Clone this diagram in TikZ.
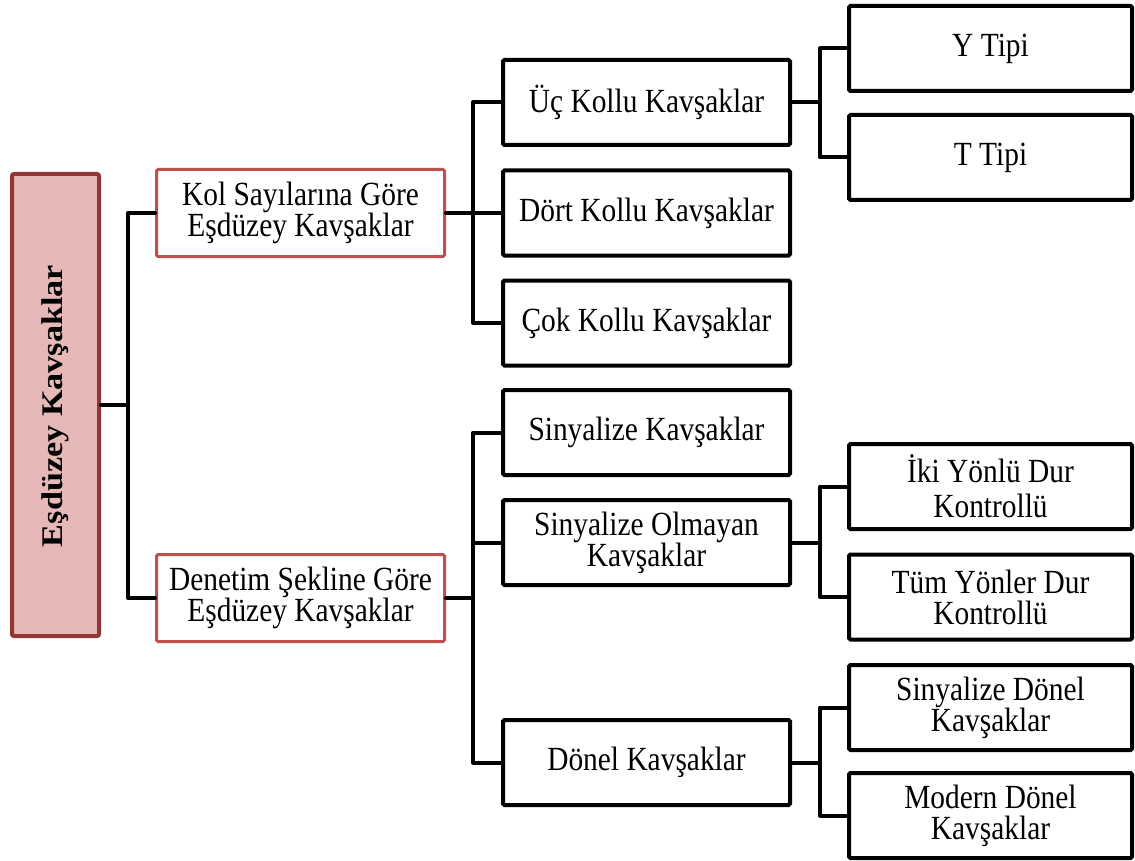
\documentclass[tikz,border=0pt]{standalone}
\usepackage{fontspec}
\setmainfont{Liberation Serif}[FakeStretch=0.87]
\newfontfamily\rootfont{Liberation Serif}[FakeStretch=1.14]
\usetikzlibrary{calc}
\definecolor{rootfill}{HTML}{E6B9B8}
\definecolor{rootdraw}{HTML}{943634}
\definecolor{redline}{HTML}{C0504D}
\begin{document}
\begin{tikzpicture}[x=1pt,y=-1pt,
 every node/.style={font=\fontsize{33.8}{31}\selectfont, align=center, inner sep=0pt},
 blackbox/.style={draw=black, line width=4pt, rounded corners=1.5pt, fill=white},
 redbox/.style={draw=redline, line width=3pt, rounded corners=1.5pt, fill=white, minimum width=288pt, minimum height=87pt},
 rootbox/.style={draw=rootdraw, fill=rootfill, line width=4pt, rounded corners=2pt, minimum width=87pt, minimum height=462pt},
 lvtwo/.style={blackbox, minimum width=287pt, minimum height=85pt},
 lvthree/.style={blackbox, minimum width=283pt, minimum height=85pt},
 conn/.style={line width=4pt, line join=round, line cap=round}]
\useasboundingbox (0,0) rectangle (1135,861);

% root
\node[rootbox] (root) at (55.5,405) {};
\node[rotate=90, font=\rootfont\bfseries\fontsize{30}{30}\selectfont] (roottext) at (55,406) {Eşdüzey Kavşaklar};

% level 1
\node[redbox] (kol) at (300.5,213) {Kol Sayılarına Göre\\Eşdüzey Kavşaklar};
\node[redbox] (den) at (300.5,598) {Denetim Şekline Göre\\Eşdüzey Kavşaklar};

% level 2
\node[lvtwo] (uc) at (646.5,102.5) {Üç Kollu Kavşaklar};
\node[lvtwo] (dort) at (646.5,213) {Dört Kollu Kavşaklar};
\node[lvtwo] (cok) at (646.5,323) {Çok Kollu Kavşaklar};
\node[lvtwo] (sin) at (646.5,432.5) {Sinyalize Kavşaklar};
\node[lvtwo] (olm) at (646.5,542.5) {Sinyalize Olmayan\\Kavşaklar};
\node[lvtwo] (donel) at (646.5,762.5) {Dönel Kavşaklar};

% level 3
\node[lvthree] (ytip) at (990.5,48.5) {Y Tipi};
\node[lvthree] (ttip) at (990.5,157.5) {T Tipi};
\node[lvthree, font=\fontsize{33.8}{35}\selectfont] (iki) at (990.5,486.5) {İki Yönlü Dur\\Kontrollü};
\node[lvthree] (tum) at (990.5,597) {Tüm Yönler Dur\\Kontrollü};
\node[lvthree] (sd) at (990.5,707.5) {Sinyalize Dönel\\Kavşaklar};
\node[lvthree] (mod) at (990.5,815.5) {Modern Dönel\\Kavşaklar};

% bus coordinates
\coordinate (b1) at (128,0);
\coordinate (b2) at (473,0);
\coordinate (b3) at (820,0);

% connectors root -> level 1
\draw[conn] (root.east) -- (root.east -| b1);
\draw[conn] (kol.west) -| (b1 |- den.west) -- (den.west);

% level 1 -> level 2
\draw[conn] (kol.east) -- (dort.west);
\draw[conn] (uc.west) -| (b2 |- cok.west) -- (cok.west);
\draw[conn] (den.east) -- (den.east -| b2);
\draw[conn] (sin.west) -| (b2 |- donel.west) -- (donel.west);
\draw[conn] (olm.west -| b2) -- (olm.west);

% level 2 -> level 3
\draw[conn] (uc.east) -- (uc.east -| b3);
\draw[conn] (ytip.west) -| (b3 |- ttip.west) -- (ttip.west);
\draw[conn] (olm.east) -- (olm.east -| b3);
\draw[conn] (iki.west) -| (b3 |- tum.west) -- (tum.west);
\draw[conn] (donel.east) -- (donel.east -| b3);
\draw[conn] (sd.west) -| (b3 |- mod.west) -- (mod.west);
\end{tikzpicture}
\end{document}
